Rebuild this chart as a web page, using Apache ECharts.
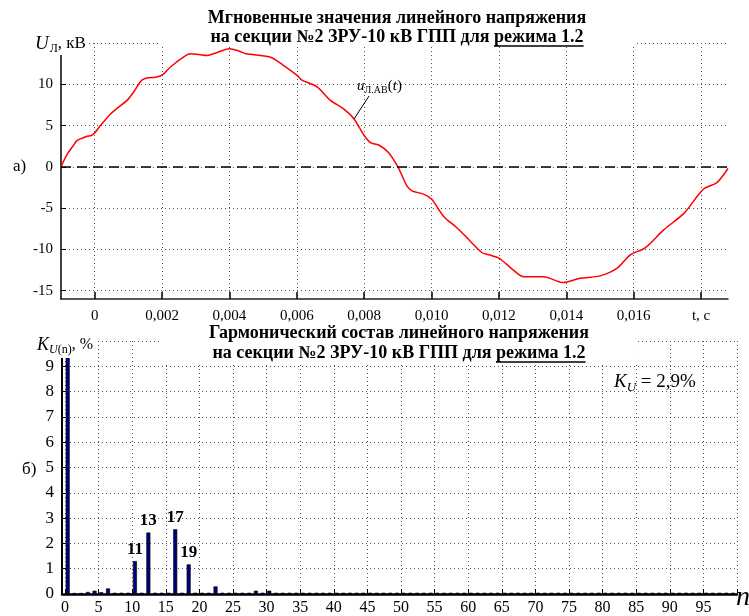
<!DOCTYPE html>
<html>
<head>
<meta charset="utf-8">
<script src="https://cdn.jsdelivr.net/npm/echarts@6/dist/echarts.min.js"></script>
<style>
html, body { margin: 0; padding: 0; background: #fff; }
#main { width: 749px; height: 616px; }
</style>
</head>
<body>
<div id="main"></div>
<script>
(function() {
    'use strict';
    var SERIF = "'Liberation Serif', 'Times New Roman', serif";

    // а) мгновенные значения линейного напряжения u_Л.АВ(t)
    var timeS = [-0.001, -0.00082, -0.00065, -0.00052, -0.00035, -0.00023, -0.0001, 0,
        0.00017, 0.00047, 0.0007, 0.00096, 0.00116, 0.0014, 0.0016, 0.0018, 0.002,
        0.00225, 0.0026, 0.00284, 0.0031, 0.00334, 0.0036, 0.004, 0.0043, 0.0045,
        0.0052, 0.0056, 0.006, 0.00615, 0.0066, 0.007, 0.0074, 0.0077, 0.008, 0.0082,
        0.00843, 0.00872, 0.009, 0.00927, 0.00942, 0.00976, 0.010, 0.01036, 0.01076,
        0.01115, 0.0115, 0.0117, 0.012, 0.01243, 0.01273, 0.01332, 0.0139, 0.0144,
        0.015, 0.0155, 0.0159, 0.01634, 0.0169, 0.0175, 0.0179, 0.0181, 0.01847, 0.0188];
    var voltKV = [0, 1.5, 2.5, 3.2, 3.5, 3.7, 3.8, 4.1,
        5.0, 6.4, 7.2, 8.05, 9.07, 10.5, 10.8, 10.85, 11.1,
        12.1, 13.2, 13.7, 13.6, 13.5, 13.8, 14.3, 14.0, 13.7,
        13.3, 12.3, 11.1, 10.5, 9.7, 8.05, 7.0, 5.8, 3.8, 2.9,
        2.65, 1.75, 0, -2.3, -2.9, -3.3, -3.9, -6.0, -7.4,
        -9.0, -10.4, -10.65, -11.05, -12.5, -13.3, -13.3, -14.0, -13.5,
        -13.2, -12.3, -10.65, -9.8, -7.6, -5.6, -3.5, -2.6, -1.9, -0.2];
    var tTicks = [0, 0.002, 0.004, 0.006, 0.008, 0.010, 0.012, 0.014, 0.016, 0.018];
    var tLabels = ['0', '0,002', '0,004', '0,006', '0,008', '0,010', '0,012', '0,014', '0,016', 't, c'];
    var uTicks = [-15, -10, -5, 0, 5, 10];
    var uGrid = [-15, -10, -5, 0, 5, 10, 15];
    var zeroLevel = 0;
    var labelPoint = [0.0077, 5.8];

    // б) гармонический состав K_U(n), %
    var harmN = [1, 2, 3, 4, 5, 6, 7, 8, 9, 10, 11, 12, 13, 14, 15, 16, 17, 18, 19, 20,
        21, 22, 23, 24, 25, 26, 27, 28, 29, 30, 31, 32, 33, 34, 35, 36, 37, 38, 39, 40,
        41, 42, 43, 44, 45, 46, 47, 48, 49, 50, 51, 52, 53, 54, 55, 56, 57, 58, 59, 60,
        61, 62, 63, 64, 65, 66, 67, 68, 69, 70, 71, 72, 73, 74, 75, 76, 77, 78, 79, 80,
        81, 82, 83, 84, 85, 86, 87, 88, 89, 90, 91, 92, 93, 94, 95, 96, 97, 98, 99, 100];
    var harmK = [100, 0.04, 0.04, 0.08, 0.13, 0.07, 0.22, 0.05, 0.05, 0.05,
        1.3, 0.05, 2.43, 0.05, 0.05, 0.05, 2.56, 0.05, 1.17, 0.05,
        0.05, 0.05, 0.3, 0.05, 0.05, 0.05, 0.05, 0.05, 0.13, 0.05,
        0.13, 0.05, 0.05, 0.05, 0.05, 0.05, 0.05, 0.05, 0.05, 0.05,
        0.05, 0.05, 0.05, 0.05, 0.05, 0.05, 0.05, 0.05, 0.05, 0.05,
        0.05, 0.05, 0.05, 0.05, 0.05, 0.05, 0.05, 0.05, 0.05, 0.05,
        0.05, 0.05, 0.05, 0.05, 0.05, 0.05, 0.05, 0.05, 0.05, 0.05,
        0.05, 0.05, 0.05, 0.05, 0.05, 0.05, 0.05, 0.05, 0.05, 0.05,
        0.05, 0.05, 0.05, 0.05, 0.05, 0.05, 0.05, 0.05, 0.05, 0.05,
        0.05, 0.05, 0.05, 0.05, 0.05, 0.05, 0.05, 0.05, 0.05, 0.05];
    var markedHarm = [11, 13, 17, 19];
    var nTicks = [0, 5, 10, 15, 20, 25, 30, 35, 40, 45, 50, 55, 60, 65, 70, 75, 80, 85, 90, 95];
    var nGrid = [0, 5, 10, 15, 20, 25, 30, 35, 40, 45, 50, 55, 60, 65, 70, 75, 80, 85, 90, 95, 100];
    var kTotal = '2,9%';

    var wave = [];
    for (var i = 0; i < timeS.length; i++) {
        wave.push([timeS[i], voltKV[i]]);
    }
    var bars = [];
    for (var j = 0; j < harmN.length; j++) {
        // столбец рисуется чуть левее номера гармоники, как в оригинале
        bars.push([harmN[j] - 0.6, harmK[j], harmN[j]]);
    }

    var gridLine = { show: true, lineStyle: { color: '#555', type: [1, 3], width: 1 } };
    var axisFont = { fontFamily: SERIF, fontSize: 15, color: '#000' };

    var chart = echarts.init(document.getElementById('main'));
    var option = {
        backgroundColor: '#fff',
        animation: false,
        grid: [
            { left: 61, top: 43, width: 667, height: 256 },
            { left: 62, top: 341, width: 675, height: 254 }
        ],
        xAxis: [{
            type: 'value', gridIndex: 0, min: -0.001, max: 0.0188,
            axisLine: { onZero: false, lineStyle: { color: '#222', width: 1.5 } },
            axisTick: { inside: true, length: 7, customValues: tTicks, lineStyle: { color: '#000', width: 1.5 } },
            axisLabel: Object.assign({
                customValues: tTicks, margin: 10,
                formatter: function(v) {
                    for (var k = 0; k < tTicks.length; k++) {
                        if (Math.abs(tTicks[k] - v) < 1e-9) return tLabels[k];
                    }
                    return '';
                }
            }, axisFont),
            splitLine: gridLine
        }, {
            type: 'value', gridIndex: 1, min: -0.45, max: 100,
            axisLine: { onZero: false, lineStyle: { color: '#000', width: 2.5 } },
            axisTick: { inside: true, length: 5, customValues: nGrid, lineStyle: { color: '#000', width: 1 } },
            axisLabel: Object.assign({}, axisFont, { customValues: nTicks, margin: 6, fontSize: 16 }),
            splitLine: gridLine
        }],
        yAxis: [{
            type: 'value', gridIndex: 0, min: -16, max: 15,
            axisLine: { show: true, onZero: false, lineStyle: { color: '#000', width: 1.5 } },
            axisTick: { show: true, inside: true, length: 5, customValues: uGrid, lineStyle: { color: '#000' } },
            axisLabel: Object.assign({ customValues: uTicks, margin: 8 }, axisFont),
            splitLine: gridLine
        }, {
            type: 'value', gridIndex: 1, min: 0, max: 10, interval: 1,
            axisLine: { show: true, onZero: false, lineStyle: { color: '#000', width: 2 } },
            axisTick: { show: true, inside: true, length: 4, lineStyle: { color: '#000' } },
            axisLabel: Object.assign({
                margin: 8, fontSize: 17,
                formatter: function(v) { return v >= 10 ? '' : String(v); }
            }, { fontFamily: SERIF, color: '#000' }),
            splitLine: gridLine
        }],
        series: [{
            type: 'line', xAxisIndex: 0, yAxisIndex: 0,
            data: wave, showSymbol: false, smooth: 0.3,
            lineStyle: { color: '#ff0000', width: 1.5 },
            markLine: {
                silent: true, symbol: 'none',
                label: { show: false },
                lineStyle: { color: '#000', type: [10, 6], width: 1.5 },
                data: [{ yAxis: zeroLevel }]
            },
            z: 3
        }, {
            type: 'bar', xAxisIndex: 1, yAxisIndex: 1,
            data: bars, barWidth: 4, clip: true,
            itemStyle: { color: '#00007a', borderColor: '#000', borderWidth: 0.6 },
            label: {
                show: true, position: 'top', distance: 3,
                fontFamily: SERIF, fontSize: 17, fontWeight: 'bold', color: '#000',
                formatter: function(p) {
                    return markedHarm.indexOf(p.data[2]) >= 0 ? String(p.data[2]) : '';
                }
            }
        }]
    };
    chart.setOption(option);

    // подписи, заголовки и выноска
    var ctx = document.createElement('canvas').getContext('2d');
    var TITLE_SIZE = 18;
    function textW(s) {
        ctx.font = 'bold ' + TITLE_SIZE + 'px ' + SERIF;
        return ctx.measureText(s).width;
    }
    function txt(x, y, s, extra) {
        var st = { text: s, x: 0, y: 0, fill: '#000', fontFamily: SERIF, fontSize: 16,
            align: 'left', verticalAlign: 'middle', textAlign: 'left', textVerticalAlign: 'middle' };
        for (var k in extra) st[k] = extra[k];
        return { type: 'text', x: x, y: y, z: 100, style: st };
    }
    function titleBlock(cx, y1, y2, line1, line2a, line2b) {
        var w1 = textW(line1), wa = textW(line2a), wb = textW(line2b);
        var x0 = cx - (wa + wb) / 2;
        var wMax = Math.max(w1, wa + wb);
        var bold = { fontSize: TITLE_SIZE, fontWeight: 'bold' };
        return [
            { type: 'rect', z: 90, shape: { x: cx - wMax / 2 - 48, y: y1 - 11, width: wMax + 96, height: y2 - y1 + 20 },
              style: { fill: '#fff' } },
            txt(cx - w1 / 2, y1, line1, bold),
            txt(x0, y2, line2a, bold),
            txt(x0 + wa, y2, line2b, bold),
            { type: 'line', z: 100, shape: { x1: x0 + wa, y1: y2 + 9, x2: x0 + wa + wb, y2: y2 + 9 },
              style: { stroke: '#000', lineWidth: 1.5 } }
        ];
    }

    var anchor = chart.convertToPixel({ gridIndex: 0 }, labelPoint);
    var g = [];
    g = g.concat(titleBlock(397, 18, 37, 'Мгновенные значения линейного напряжения',
        'на секции №2 ЗРУ-10 кВ ГПП для ', 'режима 1.2'));
    g = g.concat(titleBlock(399, 333, 353, 'Гармонический состав линейного напряжения',
        'на секции №2 ЗРУ-10 кВ ГПП для ', 'режима 1.2'));
    g.push(txt(13, 167, 'а)', { fontSize: 17 }));
    g.push(txt(22, 470, 'б)', { fontSize: 17 }));
    g.push(txt(34, 44, '{i|U}{s|Л}{r|, кВ}', {
        backgroundColor: '#fff', padding: [0, 3, 0, 1],
        rich: {
            i: { fontFamily: SERIF, fontSize: 19, fontStyle: 'italic', lineHeight: 22, verticalAlign: 'middle' },
            s: { fontFamily: SERIF, fontSize: 12, lineHeight: 22, verticalAlign: 'bottom', padding: [0, 0, 0, 1] },
            r: { fontFamily: SERIF, fontSize: 17, lineHeight: 22, verticalAlign: 'middle' }
        }
    }));
    g.push(txt(37, 345, '{i|K}{si|U}{s|(n)}{r|, %}', {
        backgroundColor: '#fff', padding: [2, 3, 2, 0],
        rich: {
            i: { fontFamily: SERIF, fontSize: 18, fontStyle: 'italic', lineHeight: 22, verticalAlign: 'middle' },
            si: { fontFamily: SERIF, fontSize: 12, fontStyle: 'italic', lineHeight: 22, verticalAlign: 'bottom' },
            s: { fontFamily: SERIF, fontSize: 12, lineHeight: 22, verticalAlign: 'bottom' },
            r: { fontFamily: SERIF, fontSize: 16, lineHeight: 22, verticalAlign: 'middle' }
        }
    }));
    g.push(txt(614, 382, '{i|K}{si|U}{r| = ' + kTotal + '}', {
        rich: {
            i: { fontFamily: SERIF, fontSize: 19, fontStyle: 'italic', lineHeight: 24, verticalAlign: 'middle' },
            si: { fontFamily: SERIF, fontSize: 13, fontStyle: 'italic', lineHeight: 24, verticalAlign: 'bottom' },
            r: { fontFamily: SERIF, fontSize: 19, lineHeight: 24, verticalAlign: 'middle' }
        }
    }));
    g.push(txt(736, 598, 'n', { fontSize: 28, fontStyle: 'italic' }));
    // выноска u_Л.АВ(t)
    var lx = anchor[0] + 15, ly = anchor[1] - 23;
    g.push({ type: 'line', z: 100, shape: { x1: anchor[0], y1: anchor[1], x2: lx, y2: ly },
        style: { stroke: '#000', lineWidth: 1 } });
    g.push(txt(lx - 12, ly - 10, '{i|u}{s|Л.АВ}{r|(}{i|t}{r|)}', {
        rich: {
            i: { fontFamily: SERIF, fontSize: 15, fontStyle: 'italic', lineHeight: 18, verticalAlign: 'middle' },
            s: { fontFamily: SERIF, fontSize: 10, lineHeight: 18, verticalAlign: 'bottom' },
            r: { fontFamily: SERIF, fontSize: 15, lineHeight: 18, verticalAlign: 'middle' }
        }
    }));
    chart.setOption({ graphic: { elements: g } });
})();
</script>
</body>
</html>
